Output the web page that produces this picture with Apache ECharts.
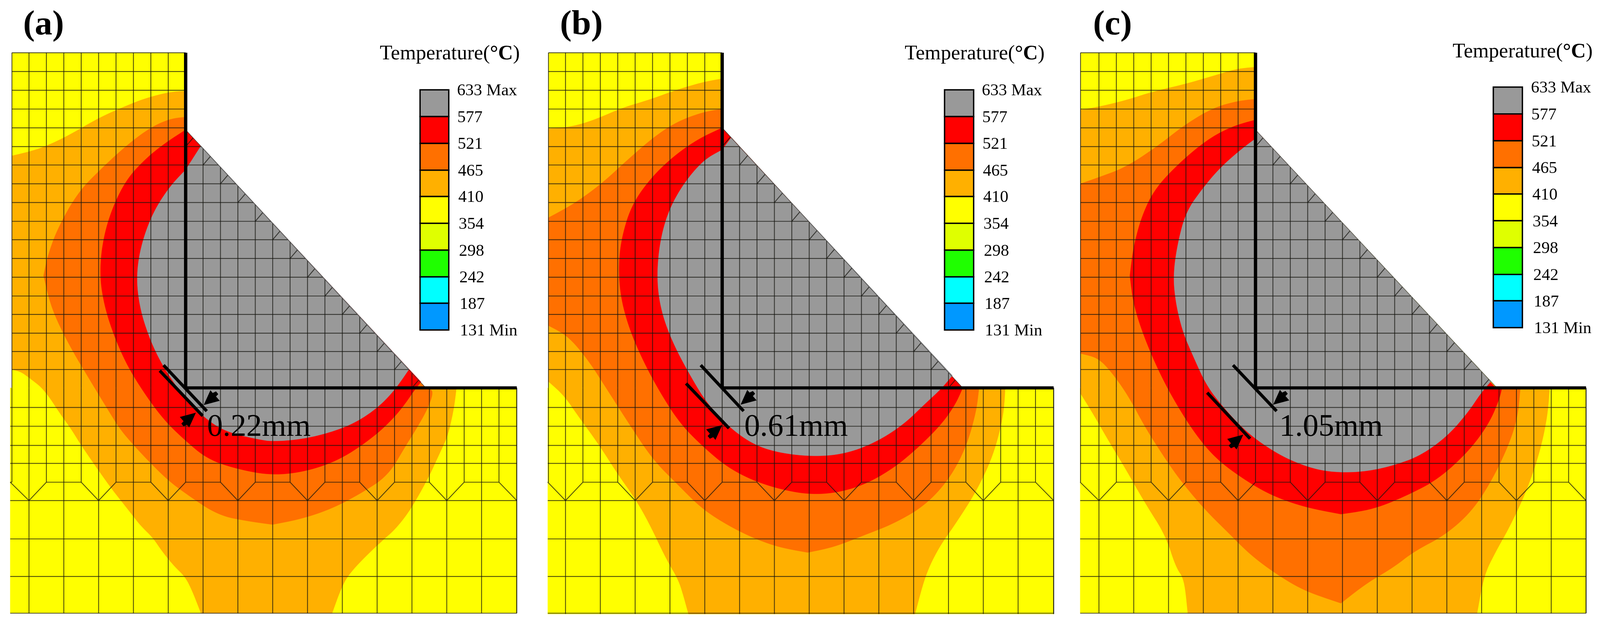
<!DOCTYPE html>
<html><head><meta charset="utf-8">
<style>html,body{margin:0;padding:0;background:#fff;overflow:hidden}#c{width:100vw;height:100vh}</style>
<script src="https://cdn.jsdelivr.net/npm/echarts@6/dist/echarts.min.js"></script>
</head><body><div id="c"></div>
<script>
// ---------- colour scale ----------
const levels = [633,577,521,465,410,354,298,242,187,131];
const levelTags = ['Max','','','','','','','','','Min'];
const bandColors = ['#999999','#FF0000','#FF7000','#FFB000','#FFFF00','#DFFF00','#1FFF00','#00FFFF','#0098FF'];
const gapLabels = ['0.22mm','0.61mm','1.05mm'];
const panelLabels = ['(a)','(b)','(c)'];

// ---------- mesh rows ----------
const rowsUpper = [132,179,226,273,320,367,413,460,507,554,600,647,694,741,787,834,880,925,971];
const rowsLower = [1020,1067,1115,1160];
const rowTransition = 1207;
const rowsCoarse = [1253,1349,1443,1535];

// ---------- panel (a) isotherms ----------
const a465 = [[545,228],[500,230],[430,245],[370,265],[290,295],[200,340],[130,368],[85,380],[35,390],[35,925],[60,930],[85,945],[130,975],[180,1040],[210,1075],[237,1113],[288,1176],[329,1225],[356,1254],[392,1293],[413,1316],[449,1346],[474,1378],[511,1417],[544,1444],[565,1480],[590,1535],[975,1535],[1000,1475],[1025,1435],[1100,1370],[1180,1310],[1250,1210],[1298,1121],[1314,1092],[1332,1026],[1340,971],[1250,971],[545,325]];
const a521 = [[545,293],[500,297],[440,320],[370,365],[300,420],[230,480],[170,570],[140,640],[128,690],[150,770],[200,860],[270,960],[320,1030],[353,1075],[391,1113],[438,1156],[493,1202],[544,1235],[640,1290],[730,1305],[800,1313],[880,1300],[970,1275],[1060,1235],[1140,1190],[1190,1117],[1219,1078],[1256,1023],[1274,977],[1250,971],[545,325]];
const a577 = [[545,325],[490,355],[430,395],[370,450],[325,530],[300,610],[293,690],[305,760],[330,830],[370,910],[420,980],[480,1050],[540,1100],[610,1150],[700,1175],[800,1190],[900,1180],[1000,1150],[1095,1095],[1153,1049],[1190,1010],[1216,977],[1236,956]];
const a633 = [[590,365],[545,425],[500,465],[450,530],[415,610],[400,690],[410,770],[440,850],[480,920],[545,1000],[620,1060],[680,1085],[760,1100],[800,1105],[880,1100],[960,1085],[1040,1060],[1110,1020],[1160,975],[1201,924]];

// ---------- panel (b) isotherms ----------
const b465 = [[554,197],[500,205],[420,225],[340,250],[260,270],[180,300],[110,318],[44,322],[44,955],[90,990],[130,1040],[190,1110],[250,1190],[300,1250],[340,1310],[390,1400],[425,1450],[440,1490],[455,1537],[1120,1537],[1150,1440],[1190,1370],[1240,1310],[1300,1230],[1350,1140],[1380,1040],[1385,971],[1260,971],[554,320]];
const b521 = [[554,273],[500,280],[420,305],[350,345],[270,405],[200,460],[120,510],[44,545],[44,815],[100,840],[160,900],[220,980],[280,1060],[350,1150],[420,1210],[490,1270],[560,1310],[640,1345],[720,1370],[805,1383],[880,1370],[970,1340],[1060,1310],[1150,1265],[1220,1200],[1270,1120],[1300,1030],[1308,971],[1260,971],[554,320]];
const b577 = [[554,320],[490,345],[420,385],[350,440],[290,510],[260,590],[250,660],[255,740],[280,820],[320,900],[370,980],[430,1060],[500,1120],[570,1170],[650,1205],[740,1228],[820,1238],[900,1232],[980,1210],[1060,1170],[1130,1120],[1200,1060],[1240,1010],[1260,971]];
const b633 = [[580,345],[554,375],[500,400],[440,460],[395,530],[370,610],[362,700],[375,780],[410,860],[460,940],[510,1010],[575,1070],[650,1115],[730,1135],[830,1143],[920,1135],[1010,1105],[1090,1060],[1150,1010],[1195,975],[1230,940]];

// ---------- panel (c) isotherms ----------
const c465 = [[554,168],[500,172],[430,190],[350,210],[250,230],[170,252],[90,268],[40,275],[40,985],[80,1040],[120,1100],[170,1170],[230,1260],[290,1340],[320,1420],[345,1450],[355,1535],[1205,1535],[1225,1440],[1260,1380],[1300,1320],[1350,1230],[1390,1130],[1412,1040],[1418,971],[1260,971],[554,325]];
const c521 = [[554,248],[500,253],[430,270],[350,310],[260,370],[170,420],[90,445],[40,460],[40,885],[90,895],[130,930],[180,990],[230,1070],[290,1150],[340,1210],[410,1280],[470,1330],[540,1390],[620,1440],[700,1480],[805,1510],[880,1460],[960,1420],[1020,1380],[1110,1340],[1190,1280],[1250,1200],[1300,1110],[1325,1040],[1332,971],[1260,971],[554,325]];
const c577 = [[554,300],[490,315],[420,345],[340,400],[260,470],[220,540],[195,620],[185,690],[195,760],[225,840],[270,930],[320,1010],[380,1090],[440,1150],[520,1200],[600,1240],[700,1270],[805,1287],[900,1275],[1000,1240],[1090,1200],[1180,1130],[1240,1060],[1270,1000],[1278,971],[1260,971],[554,325]];
const c633 = [[1245,955],[1215,985],[1180,1030],[1120,1090],[1040,1140],[960,1165],[880,1180],[800,1183],[730,1175],[650,1150],[580,1115],[520,1075],[460,1020],[410,965],[370,890],[340,830],[320,760],[312,690],[325,610],[350,530],[400,470],[450,420],[510,375],[554,347],[554,325]];
// isotherm vertices that are visibly pointed in the picture
const pointedVertices = [[128,690],[800,1313],[805,1383],[805,1510],[805,1287],[185,690]];

// ---------- measuring lines and arrow tips ----------
const gapLinesA = [[[480,914],[607,1029]],[[469,928],[595,1041]]];
const gapLinesB = [[[491,914],[617,1029]],[[448,960],[574,1072]]];
const gapLinesC = [[[488,914],[616,1029]],[[412,983],[538,1098]]];
const arrowTipsA = [[598,1014],[575,1033]];
const arrowTipsB = [[608,1013],[554,1064]];
const arrowTipsC = [[606,1013],[518,1088]];

// ---------- layout ----------
const W = window.innerWidth, H = window.innerHeight;
const SX = W/4289, SY = H/1603;
const FONT = '"Liberation Serif","Times New Roman",serif';
const MESH = {stroke:'rgba(20,20,15,0.74)', lineWidth:2.2};
const panels = [
 {crop:0,    bar:545,left:35,low:30,right:1517,bottom:1535,d0:[545,325],d1:[1250,971],iso:[a465,a521,a577,a633],lines:gapLinesA,tips:arrowTipsA,tx:608,
  legend:{x:1126,w:77,y:230,h:615,lx:22}, head:{x:62,t:1018,ty:112}},
 {crop:1430, bar:554,left:44,low:42,right:1527,bottom:1537,d0:[554,320],d1:[1260,971],iso:[b465,b521,b577,b633],lines:gapLinesB,tips:arrowTipsB,tx:619,
  legend:{x:2532,w:78,y:230,h:615,lx:22}, head:{x:1501,t:2425,ty:112}},
 {crop:2860, bar:554,left:40,low:39,right:1525,bottom:1535,d0:[554,325],d1:[1260,968],iso:[c465,c521,c577,c633],lines:gapLinesC,tips:arrowTipsC,tx:624,
  legend:{x:4003,w:78,y:223,h:616,lx:23}, head:{x:2930,t:3894,ty:107}}
];
const arrowUpper = [[0,0],[18,-38],[24,-31],[33,-35],[39,-28],[33,-22],[43,-11]];

function domain(p){
  return [[p.left,132],[p.bar,132],p.d0,p.d1,[p.right,971],[p.right,p.bottom],[p.low,p.bottom],[p.low,971],[p.left,971]];
}
// corner-rounding for drawing only: mesh-edge vertices and pointed vertices stay fixed
function rounded(pts,p){
  const m=(p.d1[1]-p.d0[1])/(p.d1[0]-p.d0[0]);
  const fixed=q=>q[0]===p.left||q[0]===p.right||q[1]===p.bottom||q[1]===971
    ||(q[0]===p.bar&&q[1]<700)
    ||Math.abs(q[1]-(p.d0[1]+m*(q[0]-p.d0[0])))<5
    ||pointedVertices.some(v=>v[0]===q[0]&&v[1]===q[1]);
  let cur=pts.map(q=>({q,fix:fixed(q)}));
  for(let it=0;it<3;it++){
    const out=[],n=cur.length;
    cur.forEach((v,i)=>{
      if(v.fix){out.push(v);return;}
      const u=cur[(i-1+n)%n].q,w=cur[(i+1)%n].q,q=v.q;
      out.push({q:[q[0]+(u[0]-q[0])*.25,q[1]+(u[1]-q[1])*.25],fix:false});
      out.push({q:[q[0]+(w[0]-q[0])*.25,q[1]+(w[1]-q[1])*.25],fix:false});
    });
    cur=out;
  }
  return cur.map(v=>v.q);
}
function buildMesh(p){
  const segs=[]; const S=51.1;
  const m=(p.d1[1]-p.d0[1])/(p.d1[0]-p.d0[0]);
  const col=k=>k===-10?p.left:(k===19?p.right:p.bar+k*S);
  const colLow=k=>k===-10?p.low:(k===19?p.right:p.bar+k*S);
  rowsUpper.forEach(y=>{
    if(y>=971) return;
    const xr=y<=p.d0[1]?p.bar:p.d0[0]+(y-p.d0[1])/m;
    segs.push([[p.left,y],[xr,y]]);
  });
  for(let k=-10;k<=18;k++){
    const x=col(k);
    const y0=k<=0?132:p.d0[1]+m*(x-p.d0[0]);
    if(y0<971) segs.push([[x,y0],[x,971]]);
  }
  for(let k=0;k<=13;k++){
    const x=p.bar+k*S, y=rowsUpper[5+k];
    const t=(y-p.d0[1]-m*(x-p.d0[0]))/(1+m);
    if(t>0) segs.push([[x,y],[x+t,y-t]]);
  }
  rowsLower.forEach(y=>segs.push([[p.low,y],[p.right,y]]));
  rowsCoarse.forEach(y=>segs.push([[p.low,y],[p.right,y]]));
  segs.push([[p.right,971],[p.right,p.bottom]]);
  segs.push([[p.low,rowTransition],[p.left,rowTransition]]);
  for(let k=-10;k<=19;k++){
    const odd=((k%2)+2)%2===1;
    if(odd){ segs.push([[col(k),971],[col(k),p.bottom]]); }
    else {
      segs.push([[col(k),971],[col(k),rowTransition]]);
      const r=((k%4)+4)%4;
      const apex=r===2?k+1:k-1;
      if(apex>=-10&&apex<=19) segs.push([[colLow(k),rowTransition],[colLow(apex),1253]]);
      if(r===0&&k+2<=19) segs.push([[col(k),rowTransition],[col(k+2),rowTransition]]);
    }
  }
  return segs;
}

const grids=[],xAxes=[],yAxes=[],series=[],titles=[];
const base=(gi,z)=>({type:'custom',xAxisIndex:gi,yAxisIndex:gi,coordinateSystem:'cartesian2d',clip:false,silent:true,z});
function polySeries(gi,polys,fill,z){
  series.push(Object.assign(base(gi,z),{
    data:polys.map((_,i)=>[i]),
    renderItem(params,api){
      const pts=polys[params.dataIndex].map(q=>api.coord(q));
      return {type:'polygon',shape:{points:pts},style:{fill:fill[params.dataIndex],stroke:fill[params.dataIndex],lineWidth:0.6}};
    }}));
}
function lineSeries(gi,segs,style,z){
  series.push(Object.assign(base(gi,z),{
    data:segs.map((_,i)=>[i]),
    renderItem(params,api){
      const s=segs[params.dataIndex],a=api.coord(s[0]),b=api.coord(s[1]);
      return {type:'line',shape:{x1:a[0],y1:a[1],x2:b[0],y2:b[1]},style:style};
    }}));
}
panels.forEach((p,i)=>{
  const gi=grids.length;
  grids.push({left:p.crop*SX,top:0,width:1430*SX,height:H});
  xAxes.push({type:'value',show:false,gridIndex:gi,min:0,max:1566});
  yAxes.push({type:'value',show:false,gridIndex:gi,min:0,max:1567,inverse:true});
  polySeries(gi,[domain(p)].concat(p.iso.map(c=>rounded(c,p))),['#FFFF00','#FFB000','#FF7000','#FF0000','#999999'],1);
  lineSeries(gi,buildMesh(p),MESH,2);
  lineSeries(gi,[[p.d0,p.d1]],{stroke:'rgba(60,60,60,0.8)',lineWidth:1.6},2);
  lineSeries(gi,[[[p.bar,132],[p.bar,971]]],{stroke:'#000',lineWidth:8.5},3);
  lineSeries(gi,[[[p.bar-4,971],[p.right,971]]],{stroke:'#000',lineWidth:8},3);
  lineSeries(gi,p.lines,{stroke:'#000',lineWidth:8},4);
  series.push(Object.assign(base(gi,5),{
    data:p.tips.map((_,j)=>[j]),
    renderItem(params,api){
      const t=api.coord(p.tips[params.dataIndex]),sg=params.dataIndex===0?1:-1;
      return {type:'polygon',shape:{points:arrowUpper.map(o=>[t[0]+sg*o[0]*SX,t[1]+sg*o[1]*SY])},style:{fill:'#000'}};
    }}));
  series.push(Object.assign(base(gi,6),{
    data:[[0]],
    renderItem(params,api){
      const c=api.coord([p.tx,1070]);
      return {type:'text',style:{text:gapLabels[i],x:c[0],y:c[1],fill:'#000',font:(84*SX)+'px '+FONT,align:'left',verticalAlign:'middle'}};
    }}));
  const L=p.legend, lg=grids.length;
  grids.push({left:L.x*SX,top:L.y*SY,width:L.w*SX,height:L.h*SY});
  xAxes.push({type:'value',show:false,gridIndex:lg,min:0,max:1});
  yAxes.push({type:'value',show:false,gridIndex:lg,min:131,max:633});
  series.push(Object.assign(base(lg,7),{
    data:bandColors.map((_,j)=>[j]),
    renderItem(params,api){
      const j=params.dataIndex,a=api.coord([0,levels[j]]),b=api.coord([1,levels[j+1]]);
      return {type:'rect',shape:{x:a[0],y:a[1],width:b[0]-a[0],height:b[1]-a[1]},style:{fill:bandColors[j],stroke:'#000',lineWidth:3.5}};
    }}));
  series.push(Object.assign(base(lg,7),{
    data:levels.map((_,j)=>[j]),
    renderItem(params,api){
      const j=params.dataIndex,c=api.coord([1,levels[j]]);
      const t=levels[j]+(levelTags[j]?' '+levelTags[j]:'');
      return {type:'text',style:{text:t,x:c[0]+(L.lx+j*0.9)*SX,y:c[1]+3,fill:'#000',font:(45*SX)+'px '+FONT,align:'left',verticalAlign:'middle'}};
    }}));
  titles.push({text:panelLabels[i],left:p.head.x*SX,top:20,padding:0,textStyle:{fontFamily:'Liberation Serif',fontWeight:'bold',fontSize:94*SX,color:'#000'}});
  titles.push({text:'{a|Temperature(}{b|°C}{a|)}',left:p.head.t*SX,top:p.head.ty*SY,padding:0,
    textStyle:{fontWeight:'normal',rich:{a:{fontFamily:'Liberation Serif',fontSize:55*SX,fontWeight:'normal',color:'#000'},b:{fontFamily:'Liberation Serif',fontSize:55*SX,fontWeight:'bold',color:'#000'}}}});
});
const chart=echarts.init(document.getElementById('c'),null,{renderer:'canvas'});
chart.setOption({animation:false,backgroundColor:'#fff',title:titles,grid:grids,xAxis:xAxes,yAxis:yAxes,series});
</script></body></html>
